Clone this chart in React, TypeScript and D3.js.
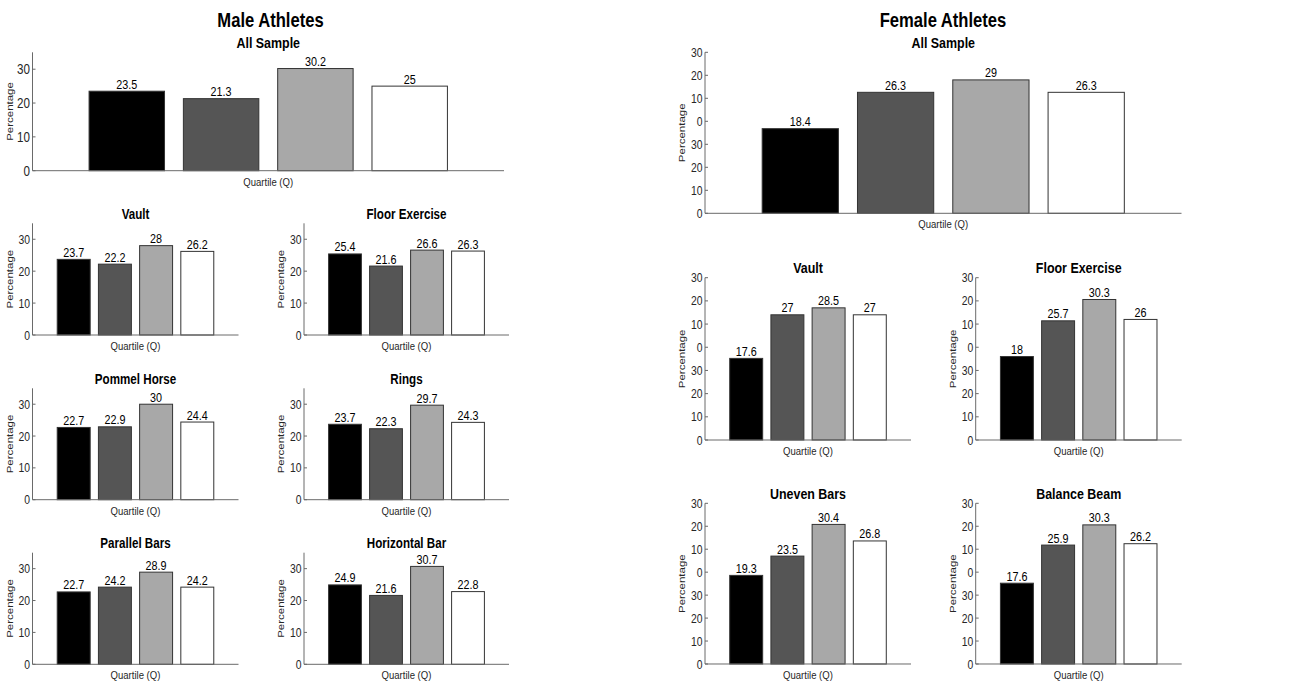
import { scaleLinear, scaleBand, range } from "d3";

const quartiles = ["Q1", "Q2", "Q3", "Q4"];
const barFills = ["#000000", "#555555", "#a8a8a8", "#ffffff"];

const maleAll = [23.5, 21.3, 30.2, 25];
const maleVault = [23.7, 22.2, 28, 26.2];
const maleFloor = [25.4, 21.6, 26.6, 26.3];
const malePommel = [22.7, 22.9, 30, 24.4];
const maleRings = [23.7, 22.3, 29.7, 24.3];
const maleParallel = [22.7, 24.2, 28.9, 24.2];
const maleHorizontal = [24.9, 21.6, 30.7, 22.8];

const femaleAll = [18.4, 26.3, 29, 26.3];
const femaleVault = [17.6, 27, 28.5, 27];
const femaleFloor = [18, 25.7, 30.3, 26];
const femaleUneven = [19.3, 23.5, 30.4, 26.8];
const femaleBeam = [17.6, 25.9, 30.3, 26.2];

const maleTicks = [0, 10, 20, 30];
const maleTickLabels = ["0", "10", "20", "30"];
const femaleTicks = range(0, 36, 5);
const femaleTickLabels = ["0", "10", "20", "30", "0", "10", "20", "30"];

const SANS = "'Liberation Sans', Arial, sans-serif";
const AXIS = "#6a6a6a";
const INK = "#262626";
const SQ = 0.83; // the figure's text is horizontally condensed

// text drawn condensed, like the squeezed original figure
function T({ x, y, size, bold, anchor = "middle", fill = INK, rotate, dy, children }: any) {
  return (
    <g transform={`translate(${x},${y}) scale(${SQ},1)${rotate ? ` rotate(${rotate})` : ""}`}>
      <text textAnchor={anchor} dy={dy} fontFamily={SANS} fontWeight={bold ? "bold" : "normal"} fontSize={size} fill={fill}>
        {children}
      </text>
    </g>
  );
}

type PanelProps = {
  x: number;
  y: number;
  w: number;
  h: number;
  values: number[];
  title?: string;
  titleSize?: number;
  ticks: number[];
  tickLabels: string[];
  tickSize?: number;
};

function Panel({ x, y, w, h, values, title, titleSize = 14, ticks, tickLabels, tickSize = 12.5 }: PanelProps) {
  const yScale = scaleLinear().domain([0, 35]).range([h, 0]);
  // MATLAB-style bar placement: categories at 1..4 on a [0, 5] axis, bar width 0.8
  const xScale = scaleLinear().domain([0, 5]).range([0, w]);
  const band = scaleBand<string>().domain(quartiles).range([xScale(0.5), xScale(4.5)]).paddingInner(0.2).paddingOuter(0.1);

  return (
    <g transform={`translate(${x},${y})`}>
      {title && (
        <T x={w / 2} y={-4.5} size={titleSize} bold fill="#000">
          {title}
        </T>
      )}
      {values.map((v, i) => (
        <g key={i}>
          <rect
            x={band(quartiles[i])}
            y={yScale(v)}
            width={band.bandwidth()}
            height={h - yScale(v)}
            fill={barFills[i]}
            stroke="#333"
            strokeWidth={1}
          />
          <T x={(band(quartiles[i]) ?? 0) + band.bandwidth() / 2} y={yScale(v) - 2.5} size={13} fill="#000">
            {v}
          </T>
        </g>
      ))}
      <line x1={0} x2={0} y1={yScale(35)} y2={h} stroke={AXIS} strokeWidth={1} />
      <line x1={0} x2={w} y1={h} y2={h} stroke={AXIS} strokeWidth={1} />
      {ticks.map((t, i) => (
        <g key={i}>
          <line x1={0} x2={3} y1={yScale(t)} y2={yScale(t)} stroke={AXIS} strokeWidth={1} />
          <T x={-2.5} y={yScale(t)} dy="0.36em" anchor="end" size={tickSize}>
            {tickLabels[i]}
          </T>
        </g>
      ))}
      <T x={-20} y={h / 2} size={11.5} rotate={-90}>
        Percentage
      </T>
      <T x={w / 2} y={h + 15} size={11.5}>
        Quartile (Q)
      </T>
    </g>
  );
}

export default function App() {
  const mL = 32.5;
  const mR = 304;
  const fL = 705;
  const fR = 975.7;
  const sw = 206;
  return (
    <svg width={1301} height={684} style={{ position: "absolute", left: 0, top: 0, background: "#fff" }}>
      <rect width={1301} height={684} fill="#fff" />
      <T x={270.5} y={27} size={20} bold fill="#000">
        Male Athletes
      </T>
      <T x={943} y={27} size={20} bold fill="#000">
        Female Athletes
      </T>

      <Panel x={mL} y={52.3} w={471.5} h={118.4} values={maleAll} title="All Sample" titleSize={15}
        ticks={maleTicks} tickLabels={maleTickLabels} tickSize={14} />
      <Panel x={mL} y={223.3} w={sw} h={111.7} values={maleVault} title="Vault" ticks={maleTicks} tickLabels={maleTickLabels} />
      <Panel x={mR} y={223.3} w={205} h={111.7} values={maleFloor} title="Floor Exercise" ticks={maleTicks} tickLabels={maleTickLabels} />
      <Panel x={mL} y={388.3} w={sw} h={111.4} values={malePommel} title="Pommel Horse" ticks={maleTicks} tickLabels={maleTickLabels} />
      <Panel x={mR} y={388.3} w={205} h={111.4} values={maleRings} title="Rings" ticks={maleTicks} tickLabels={maleTickLabels} />
      <Panel x={mL} y={552.7} w={sw} h={111.6} values={maleParallel} title="Parallel Bars" ticks={maleTicks} tickLabels={maleTickLabels} />
      <Panel x={mR} y={552.7} w={205} h={111.6} values={maleHorizontal} title="Horizontal Bar" ticks={maleTicks} tickLabels={maleTickLabels} />

      <Panel x={fL} y={52.3} w={476.5} h={161} values={femaleAll} title="All Sample" titleSize={15}
        ticks={femaleTicks} tickLabels={femaleTickLabels} />
      <Panel x={fL} y={277.7} w={sw} h={162.3} values={femaleVault} title="Vault" titleSize={15}
        ticks={femaleTicks} tickLabels={femaleTickLabels} />
      <Panel x={fR} y={277.7} w={sw} h={162.3} values={femaleFloor} title="Floor Exercise" titleSize={15}
        ticks={femaleTicks} tickLabels={femaleTickLabels} />
      <Panel x={fL} y={503.3} w={sw} h={160.7} values={femaleUneven} title="Uneven Bars" titleSize={15}
        ticks={femaleTicks} tickLabels={femaleTickLabels} />
      <Panel x={fR} y={503.3} w={sw} h={160.7} values={femaleBeam} title="Balance Beam" titleSize={15}
        ticks={femaleTicks} tickLabels={femaleTickLabels} />
    </svg>
  );
}
